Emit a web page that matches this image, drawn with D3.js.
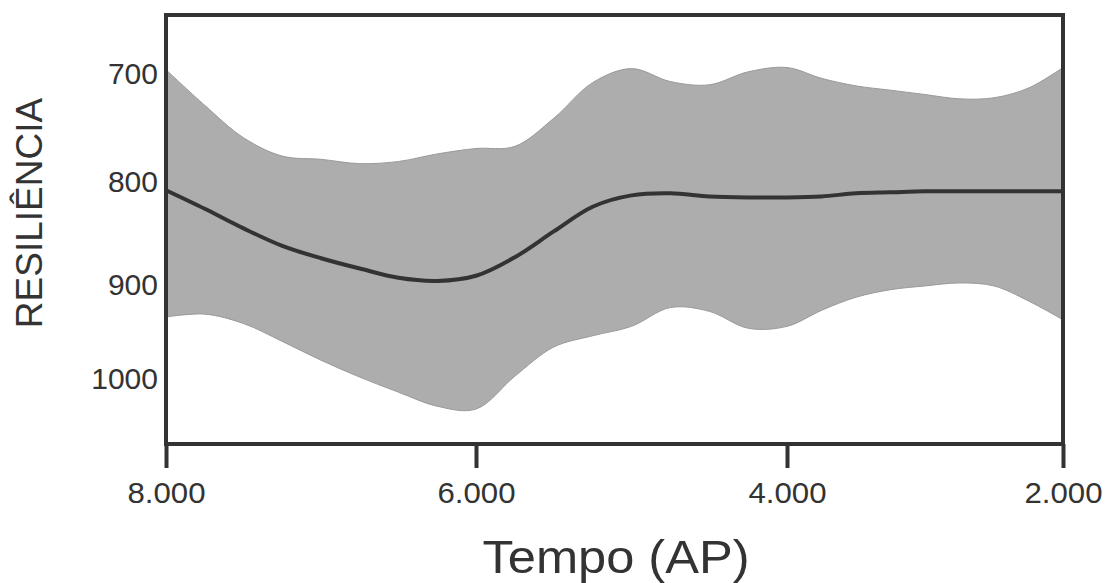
<!DOCTYPE html>
<html>
<head>
<meta charset="utf-8">
<script src="https://cdn.jsdelivr.net/npm/d3@7"></script>
<style>
  body { margin: 0; background: #fff; }
  svg text { font-family: "Liberation Sans", Arial, sans-serif; fill: #333; }
</style>
</head>
<body>
<svg id="chart" width="1118" height="583"></svg>
<script>
// years BP (x axis runs backwards, 8000 -> 2000)
var years = [8000, 7750, 7500, 7250, 7000, 6750, 6500, 6250, 6000,
             5750, 5500, 5250, 5000, 4750, 4500, 4250, 4000,
             3750, 3500, 3250, 3000, 2750, 2500, 2250, 2000];

// resilience, mean curve
var meanVals = [808, 826, 845, 862, 874, 884, 893, 896, 891,
                873, 848, 824, 813, 811, 814, 815, 815,
                814, 811, 810, 809, 809, 809, 809, 809];

// envelope, upper edge (smaller number = higher on chart)
var upperVals = [696, 729, 759, 776, 779, 783, 781, 774, 769,
                 767, 741, 708, 695, 707, 710, 698, 694,
                 704, 711, 715, 719, 723, 722, 713, 694];

// envelope, lower edge
var lowerVals = [934, 931, 941, 960, 980, 998, 1014, 1029, 1032,
                 997, 966, 954, 944, 924, 928, 946, 944,
                 927, 913, 905, 901, 898, 901, 917, 937];

var xTicks = [8000, 6000, 4000, 2000];
var yTicks = [700, 800, 900, 1000];
var xTitle = "Tempo (AP)";
var yTitle = "RESILIÊNCIA";

var svg = d3.select("#chart");

var plotLeft = 166, plotRight = 1063, plotTop = 15, plotBottom = 444;

// the original axes are not quite evenly spaced, so piecewise scales
var x = d3.scaleLinear().domain(xTicks).range([166, 476, 787, 1063]);
var y = d3.scaleLinear().domain(yTicks).range([74, 182, 285, 379]);

var rows = years.map(function(yr, i){
  return { yr: yr, m: meanVals[i], up: upperVals[i], lo: lowerVals[i] };
});

var area = d3.area()
  .x(function(d){ return x(d.yr); })
  .y0(function(d){ return y(d.lo); })
  .y1(function(d){ return y(d.up); })
  .curve(d3.curveCatmullRom);

var line = d3.line()
  .x(function(d){ return x(d.yr); })
  .y(function(d){ return y(d.m); })
  .curve(d3.curveCatmullRom);

svg.append("path")
  .datum(rows)
  .attr("d", area)
  .attr("fill", "#adadad")
  .attr("stroke", "#9a9a9a")
  .attr("stroke-width", 1);

svg.append("path")
  .datum(rows)
  .attr("d", line)
  .attr("fill", "none")
  .attr("stroke", "#333")
  .attr("stroke-width", 4);

// frame
svg.append("rect")
  .attr("x", plotLeft).attr("y", plotTop)
  .attr("width", plotRight - plotLeft).attr("height", plotBottom - plotTop)
  .attr("fill", "none")
  .attr("stroke", "#333")
  .attr("stroke-width", 4);

var xAxis = svg.append("g")
  .attr("transform", "translate(0," + plotBottom + ")")
  .call(d3.axisBottom(x)
    .tickValues(xTicks)
    .tickSizeInner(24).tickSizeOuter(0).tickPadding(14)
    .tickFormat(function(d){ return d3.format(",")(d).replace(",", "."); }));

xAxis.select(".domain").remove();
xAxis.selectAll(".tick line").attr("stroke", "#333").attr("stroke-width", 4);
xAxis.selectAll(".tick text")
  .attr("font-size", 30)
  .attr("font-family", null)
  .attr("fill", null)
  .attr("transform", "scale(1.04,1)");

var yAxis = svg.append("g")
  .attr("transform", "translate(" + plotLeft + ",0)")
  .call(d3.axisLeft(y).tickValues(yTicks).tickSize(0).tickFormat(d3.format("d")));

yAxis.select(".domain").remove();
yAxis.selectAll(".tick text")
  .attr("font-size", 30)
  .attr("font-family", null)
  .attr("fill", null)
  .attr("x", -8);

svg.append("text")
  .attr("transform", "translate(616,573) scale(1.1,1)")
  .attr("text-anchor", "middle")
  .attr("font-size", 46)
  .text(xTitle);

svg.append("text")
  .attr("transform", "translate(42,213) rotate(-90)")
  .attr("text-anchor", "middle")
  .attr("font-size", 37)
  .text(yTitle);
</script>
</body>
</html>
